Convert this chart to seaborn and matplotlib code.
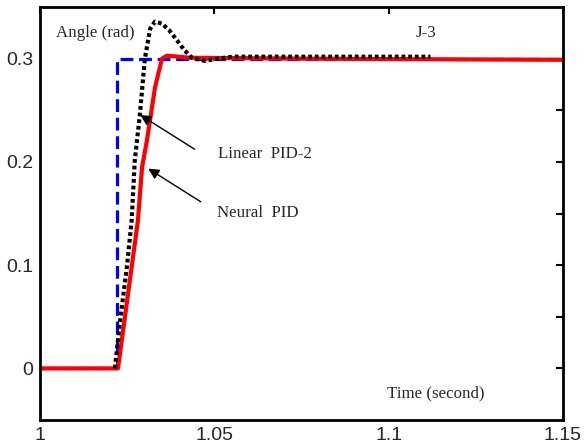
import matplotlib
matplotlib.use("Agg")
import matplotlib.pyplot as plt
import seaborn as sns
import pandas as pd
import numpy as np

# Reference step input
ref_t = [1.0, 1.0221, 1.0221, 1.15]
ref_y = [0.0, 0.0, 0.300, 0.300]

# Linear PID-2 response (black dotted)
lin_t = [1.0215, 1.0230, 1.0250, 1.0263, 1.0272, 1.0287, 1.0301, 1.0316, 1.0330,
         1.0350, 1.0370, 1.0393, 1.0415, 1.0436, 1.0473, 1.0507, 1.0554, 1.0700, 1.0900, 1.1120]
lin_y = [0.000, 0.046, 0.100, 0.143, 0.201, 0.247, 0.300, 0.329, 0.336,
         0.334, 0.328, 0.318, 0.308, 0.301, 0.298, 0.300, 0.302, 0.302, 0.302, 0.302]

# Neural PID response (red solid)
neu_t = [1.0, 1.0224, 1.0281, 1.0293, 1.0307, 1.0330, 1.0350, 1.0364, 1.0430, 1.0800, 1.15]
neu_y = [0.0, 0.000, 0.143, 0.195, 0.221, 0.272, 0.300, 0.303, 0.301, 0.300, 0.299]

sns.set_style("white")
plt.rcParams['font.family'] = ['Liberation Sans', 'DejaVu Sans']

fig = plt.figure(figsize=(5.87, 4.48), dpi=100)
ax = fig.add_axes([0.068, 0.0625, 0.891, 0.9215])

sns.lineplot(x=ref_t, y=ref_y, ax=ax, color='#0000ff', lw=2.3,
             linestyle=(0, (4.0, 1.8)), estimator=None, sort=False)
sns.lineplot(x=neu_t, y=neu_y, ax=ax, color='#ff0000', lw=3.0,
             estimator=None, sort=False)
sns.lineplot(x=lin_t, y=lin_y, ax=ax, color='black', lw=3.0,
             linestyle=(0, (0.9, 0.7)), estimator=None, sort=False)

ax.set_xlim(1.0, 1.15)
ax.set_ylim(-0.05, 0.35)
ax.set_xticks([1.0, 1.05, 1.1, 1.15])
ax.set_xticklabels(['1', '1.05', '1.1', '1.15'])
ax.set_yticks([0, 0.1, 0.2, 0.3])
ax.set_yticklabels(['0', '0.1', '0.2', '0.3'])
ax.set_yticks([0.05, 0.15, 0.25], minor=True)
ax.tick_params(axis='both', which='both', direction='in', top=True, right=True,
               length=5, width=1.5, labelsize=14, color='black', pad=5)
ax.tick_params(axis='both', which='minor', length=5)
for s in ax.spines.values():
    s.set_linewidth(2)
    s.set_color('black')
ax.set_xlabel('')
ax.set_ylabel('')

serif = ['Liberation Serif', 'DejaVu Serif']
fs = 12.2
ax.text(1.0045, 0.325, 'Angle (rad)', family=serif, fontsize=fs, va='center')
ax.text(1.1078, 0.325, 'J-3', family=serif, fontsize=fs, va='center')
ax.text(1.0511, 0.208, 'Linear  PID-2', family=serif, fontsize=fs, va='center')
ax.text(1.0508, 0.151, 'Neural  PID', family=serif, fontsize=fs, va='center')
ax.text(1.0995, -0.024, 'Time (second)', family=serif, fontsize=fs, va='center')

arrow = dict(arrowstyle='-|>', color='black', lw=1.0, mutation_scale=16)
ax.annotate('', xy=(1.0281, 0.247), xytext=(1.0450, 0.211), arrowprops=arrow)
ax.annotate('', xy=(1.0304, 0.195), xytext=(1.0468, 0.160), arrowprops=arrow)

fig.savefig('out.png', dpi=100)
